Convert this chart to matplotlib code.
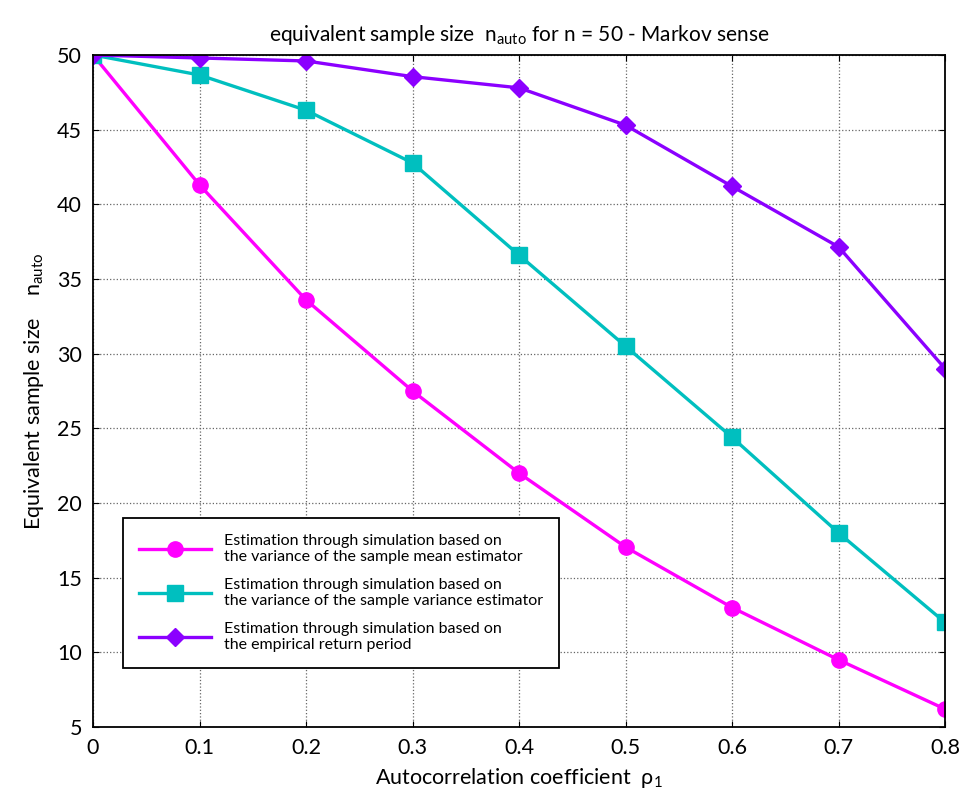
import numpy as np
import matplotlib.pyplot as plt

plt.rcParams['font.family'] = ['Lato', 'DejaVu Sans']
plt.rcParams['mathtext.default'] = 'regular'

rho = [0, 0.1, 0.2, 0.3, 0.4, 0.5, 0.6, 0.7, 0.8]
n_mean = [50, 41.3, 33.6, 27.5, 22.0, 17.05, 13.0, 9.5, 6.2]
n_var = [50, 48.66, 46.3, 42.77, 36.6, 30.5, 24.4, 18.0, 12.0]
n_ret = [50, 49.8, 49.6, 48.55, 47.8, 45.3, 41.2, 37.15, 29.0]

labels = ['Estimation through simulation based on\nthe variance of the sample mean estimator',
          'Estimation through simulation based on\nthe variance of the sample variance estimator',
          'Estimation through simulation based on\nthe empirical return period']

fig = plt.figure(figsize=(9.67, 8.05), dpi=100)
ax = fig.add_axes([0.0962, 0.0969, 0.8811, 0.8348])

ax.plot(rho, n_mean, color='#ff00ff', lw=2.4, marker='o', ms=11, label=labels[0])
ax.plot(rho, n_var, color='#00bfbf', lw=2.4, marker='s', ms=11, label=labels[1])
ax.plot(rho, n_ret, color='#8b00ff', lw=2.4, marker='D', ms=9, label=labels[2])

ax.set_xlim(0, 0.8)
ax.set_ylim(5, 50)
ax.set_xticks(rho)
ax.set_xticklabels(['0', '0.1', '0.2', '0.3', '0.4', '0.5', '0.6', '0.7', '0.8'])
ax.set_yticks(np.arange(5, 51, 5))
ax.tick_params(direction='in', top=True, right=True, labelsize=15.5, length=4, pad=8)
ax.grid(True, color='#666666', linestyle=':', linewidth=0.9)
for s in ax.spines.values():
    s.set_linewidth(1.3)

ax.set_title(r'equivalent sample size  n$_{auto}$ for n = 50 - Markov sense', fontsize=15, pad=10)
ax.set_xlabel(r'Autocorrelation coefficient  $\rho_1$', fontsize=15.5, labelpad=6)
ax.set_ylabel(r'Equivalent sample size    n$_{auto}$', fontsize=15.5, labelpad=8)

leg = ax.legend(loc='lower left', bbox_to_anchor=(0.026, 0.076), fontsize=11.5,
                fancybox=False, edgecolor='black', framealpha=1, handlelength=4.5,
                labelspacing=0.85, borderpad=1.0)
leg.get_frame().set_linewidth(1.3)

plt.savefig('out.png')
